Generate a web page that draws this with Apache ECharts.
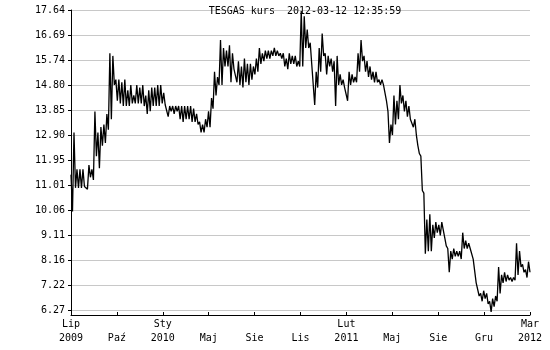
<!DOCTYPE html>
<html><head><meta charset="utf-8">
<script src="https://cdn.jsdelivr.net/npm/echarts@6/dist/echarts.min.js"></script>
<style>html,body{margin:0;padding:0;background:#fff}#c{width:550px;height:350px}</style>
</head><body><div id="c"></div>
<script>
const titleText = 'TESGAS kurs  2012-03-12 12:35:59';
const xTickLabels = ['Lip\n2009', '\nPaź', 'Sty\n2010', '\nMaj', '\nSie', '\nLis', 'Lut\n2011', '\nMaj', '\nSie', '\nGru', 'Mar\n2012'];
const yTickLabels = ['6.27', '7.22', '8.16', '9.11', '10.06', '11.01', '11.95', '12.90', '13.85', '14.80', '15.74', '16.69', '17.64'];
const yMin = 6.08, yMax = 17.64;

// daily range envelope, sampled across the period (Jul 2009 - Mar 2012)
const highs = [
 11.4, 13.0, 11.6, 11.6, 11.6, 11.0, 11.76, 11.6, 13.79, 13.0,
 13.2, 13.3, 13.7, 16.0, 15.9, 15.0, 15.0, 14.9, 15.0, 14.6,
 14.8, 14.4, 14.8, 14.7, 14.8, 14.4, 14.6, 14.7, 14.7, 14.8,
 14.8, 14.5, 14.1, 14.0, 14.0, 14.0, 14.0, 14.0, 14.0, 14.0,
 14.0, 13.9, 13.7, 13.4, 13.3, 13.5, 13.8, 14.3, 15.3, 15.1,
 16.5, 16.2, 16.1, 16.3, 16.0, 15.4, 15.7, 15.5, 15.8, 15.6,
 15.6, 15.5, 15.8, 16.2, 16.0, 16.1, 16.1, 16.1, 16.2, 16.1,
 16.0, 16.0, 15.8, 16.0, 15.9, 15.9, 15.7, 17.6, 17.4, 16.9,
 16.4, 15.6, 15.3, 16.2, 16.75, 16.0, 15.9, 15.8, 15.7, 15.9,
 15.2, 15.0, 14.7, 15.3, 15.2, 15.1, 16.0, 16.5, 15.9, 15.7,
 15.5, 15.3, 15.3, 15.0, 15.0, 14.8, 13.8, 13.3, 14.4, 14.2,
 14.8, 14.4, 14.2, 14.0, 13.5, 13.5, 12.5, 12.1, 10.7, 9.7,
 9.9, 9.5, 9.6, 9.5, 9.6, 9.0, 8.6, 8.5, 8.6, 8.5,
 8.5, 9.2, 8.9, 8.8, 8.6, 8.2, 7.3, 6.9, 7.0, 6.9,
 6.6, 6.7, 6.8, 7.9, 7.6, 7.7, 7.6, 7.5, 7.5, 8.8,
 8.5, 8.0, 7.8, 8.1
];
const lows = [
 10.0, 10.9, 10.9, 10.9, 10.95, 10.85, 11.3, 11.2, 12.1, 11.64,
 12.5, 12.6, 13.1, 13.5, 14.8, 14.2, 14.1, 14.0, 14.0, 14.0,
 14.1, 14.1, 14.1, 14.1, 14.0, 13.7, 13.8, 14.0, 14.0, 14.0,
 14.1, 14.05, 13.6, 13.8, 13.7, 13.8, 13.5, 13.4, 13.5, 13.5,
 13.4, 13.4, 13.3, 13.0, 13.0, 13.2, 13.2, 13.9, 14.4, 14.8,
 14.8, 15.5, 15.5, 14.9, 15.4, 14.9, 14.8, 14.7, 14.9, 14.8,
 15.0, 15.2, 15.3, 15.6, 15.7, 15.8, 15.8, 15.9, 15.9, 15.9,
 15.8, 15.5, 15.4, 15.6, 15.6, 15.5, 15.5, 15.5, 16.2, 16.2,
 15.6, 14.04, 14.7, 15.3, 15.9, 15.2, 15.5, 15.3, 14.0, 14.8,
 14.8, 14.7, 14.2, 14.8, 14.9, 14.9, 15.3, 15.7, 15.3, 15.1,
 15.0, 14.9, 14.9, 14.8, 14.8, 14.2, 12.6, 12.9, 13.3, 13.5,
 14.1, 13.8, 13.6, 13.5, 13.2, 12.9, 12.2, 10.8, 8.4, 8.5,
 8.5, 9.0, 9.2, 9.1, 9.3, 8.7, 7.7, 8.2, 8.3, 8.3,
 8.2, 8.6, 8.6, 8.6, 8.2, 7.3, 6.8, 6.6, 6.7, 6.5,
 6.2, 6.4, 6.6, 6.9, 7.3, 7.35, 7.4, 7.35, 7.4, 7.6,
 7.9, 7.7, 7.5, 7.7
];

const path = [];
highs.forEach((h, k) => { path.push([path.length, h]); path.push([path.length, lows[k]]); });
const lastIdx = path.length - 1;
const xStep = lastIdx / (xTickLabels.length - 1);
const xTickPos = xTickLabels.map((_, i) => i * xStep);
const yTickVals = yTickLabels.map(Number);

const font = 'DejaVu Sans Mono';
const chart = echarts.init(document.getElementById('c'), null, {renderer: 'canvas'});
chart.setOption({
  animation: false,
  backgroundColor: '#fff',
  title: {
    text: titleText, left: 300, top: 1, textAlign: 'center',
    textStyle: {fontFamily: font, fontSize: 10, fontWeight: 'normal', color: '#000'}
  },
  grid: {left: 71, right: 20, top: 10, bottom: 35, containLabel: false},
  xAxis: {
    type: 'value', min: 0, max: lastIdx,
    axisLine: {show: true, lineStyle: {color: '#000', width: 1}},
    axisTick: {show: true, inside: true, length: 3, customValues: xTickPos, lineStyle: {color: '#000'}},
    axisLabel: {
      customValues: xTickPos, margin: 2, color: '#000', fontFamily: font, fontSize: 10, lineHeight: 14,
      showMinLabel: true, showMaxLabel: true, hideOverlap: false,
      formatter: v => xTickLabels[Math.round(v / xStep)]
    },
    splitLine: {show: false}
  },
  yAxis: {
    type: 'value', min: yMin, max: yMax,
    axisLine: {show: true, lineStyle: {color: '#000', width: 1}},
    axisTick: {show: true, inside: false, length: 3, customValues: yTickVals, lineStyle: {color: '#000'}},
    axisLabel: {
      customValues: yTickVals, margin: 6, color: '#000', fontFamily: font, fontSize: 10,
      showMinLabel: true, showMaxLabel: true, hideOverlap: false,
      formatter: v => yTickLabels[yTickVals.indexOf(v)] ?? v.toFixed(2)
    },
    splitLine: {show: true, lineStyle: {color: '#c8c8c8', width: 1}}
  },
  series: [{
    type: 'line', data: path, showSymbol: false, symbol: 'none',
    lineStyle: {color: '#000', width: 1.3}, z: 5
  }]
});
</script>
</body></html>
